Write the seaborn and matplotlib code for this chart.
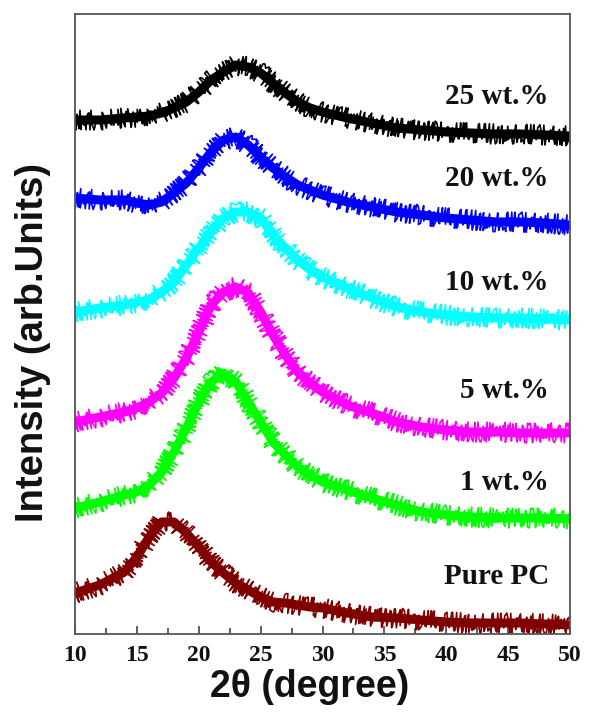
import matplotlib
matplotlib.use("Agg")
import matplotlib.pyplot as plt
import pandas as pd
import seaborn as sns
from matplotlib.ticker import MultipleLocator

# Diffraction angle grid (degrees, 2-theta)
two_theta = [10, 12, 14, 15, 16, 17, 18, 19, 20, 21, 22, 23, 24, 25, 26,
             27, 28, 29, 30, 32, 34, 36, 38, 40, 42, 44, 46, 48, 50]

# Stacked intensity traces (arb. units, vertically offset)
pure_pc = [41, 49, 62, 77, 97, 112, 112, 101, 87, 72, 61, 51, 44, 37, 32,
           31, 29, 27, 26, 21, 17, 16, 14, 12, 11, 11, 11, 10, 9]
wt_1 = [126, 132, 139, 142, 149, 162, 182, 206, 232, 252, 261, 252, 232, 212, 192,
        179, 167, 159, 152, 144, 136, 129, 122, 119, 117, 116, 116, 116, 115]
wt_5 = [212, 217, 222, 226, 232, 241, 256, 276, 302, 329, 342, 347, 341, 322, 299,
        279, 262, 251, 242, 229, 221, 212, 207, 204, 202, 202, 201, 201, 201]
wt_10 = [322, 326, 329, 332, 334, 342, 352, 369, 386, 402, 416, 422, 422, 416, 399,
         386, 374, 364, 357, 346, 336, 327, 322, 319, 317, 316, 316, 315, 314]
wt_20 = [436, 434, 434, 431, 429, 432, 441, 451, 466, 482, 494, 497, 489, 477, 466,
         457, 449, 444, 439, 432, 427, 422, 419, 416, 414, 412, 412, 411, 409]
wt_25 = [514, 514, 516, 517, 518, 521, 526, 532, 542, 554, 562, 569, 567, 561, 551,
         541, 532, 526, 522, 516, 511, 506, 504, 502, 501, 500, 500, 499, 498]

sample_names = ["Pure PC", "1 wt.%", "5 wt.%", "10 wt.%", "20 wt.%", "25 wt.%"]
traces = [pure_pc, wt_1, wt_5, wt_10, wt_20, wt_25]

palette = {
    "Pure PC": "#800000",
    "1 wt.%": "#00ff00",
    "5 wt.%": "#ff00ff",
    "10 wt.%": "#00ffff",
    "20 wt.%": "#0000ff",
    "25 wt.%": "#000000",
}

frames = [pd.DataFrame({"angle": two_theta, "intensity": vals, "sample": name})
          for name, vals in zip(sample_names, traces)]
df = pd.concat(frames, ignore_index=True)

sns.set_style("ticks")
plt.rcParams["font.family"] = ["Liberation Sans", "DejaVu Sans"]

fig = plt.figure(figsize=(5.9, 7.14), dpi=100)
ax = fig.add_axes([75 / 590, 1 - 634 / 714, 495 / 590, 620 / 714])

# thick base band for each trace
sns.lineplot(data=df, x="angle", y="intensity", hue="sample", palette=palette,
             hue_order=sample_names, linewidth=6.5, estimator=None, sort=False,
             legend=False, ax=ax)
# jagged overlay giving the noisy texture of the raw counts
sns.lineplot(data=df, x="angle", y="intensity", hue="sample", palette=palette,
             hue_order=sample_names, linewidth=1.2, estimator=None, sort=False,
             legend=False, ax=ax)
for line in ax.lines[len(sample_names):]:
    line.set_sketch_params(scale=10, length=1.0, randomness=4)
for line in ax.lines:
    line.set_solid_capstyle("butt")

ax.set_xlim(10, 50)
ax.set_ylim(0, 620)
ax.xaxis.set_major_locator(MultipleLocator(5))
ax.xaxis.set_minor_locator(MultipleLocator(2.5))
ax.set_yticks([])
ax.tick_params(axis="x", which="major", direction="in", length=6, width=1.2,
               color="#444444", pad=8)
ax.tick_params(axis="x", which="minor", direction="in", length=4, width=1.2,
               color="#444444")
for lab in ax.get_xticklabels():
    lab.set_fontfamily("Liberation Serif")
    lab.set_fontweight("bold")
    lab.set_fontsize(17)
    lab.set_color("#111111")
for side in ["left", "right", "top", "bottom"]:
    ax.spines[side].set_visible(True)
    ax.spines[side].set_color("#555555")
    ax.spines[side].set_linewidth(1.3)

ax.set_xlabel("2θ (degree)", fontsize=27, fontweight="bold", va="center",
              color="#111111")
ax.xaxis.set_label_coords(0.475, -0.086)
ax.set_ylabel("Intensity (arb.Units)", fontsize=27.5, fontweight="bold",
              va="center", color="#111111")
ax.yaxis.set_label_coords(-0.085, 0.47)

label_y = {"25 wt.%": 538, "20 wt.%": 456, "10 wt.%": 352,
           "5 wt.%": 244, "1 wt.%": 151, "Pure PC": 58}
for name in sample_names:
    ax.text(48.3, label_y[name], name, ha="right", va="center",
            fontfamily="Liberation Serif", fontweight="bold", fontsize=21,
            color="#111111")

fig.savefig("out.png", dpi=100)
